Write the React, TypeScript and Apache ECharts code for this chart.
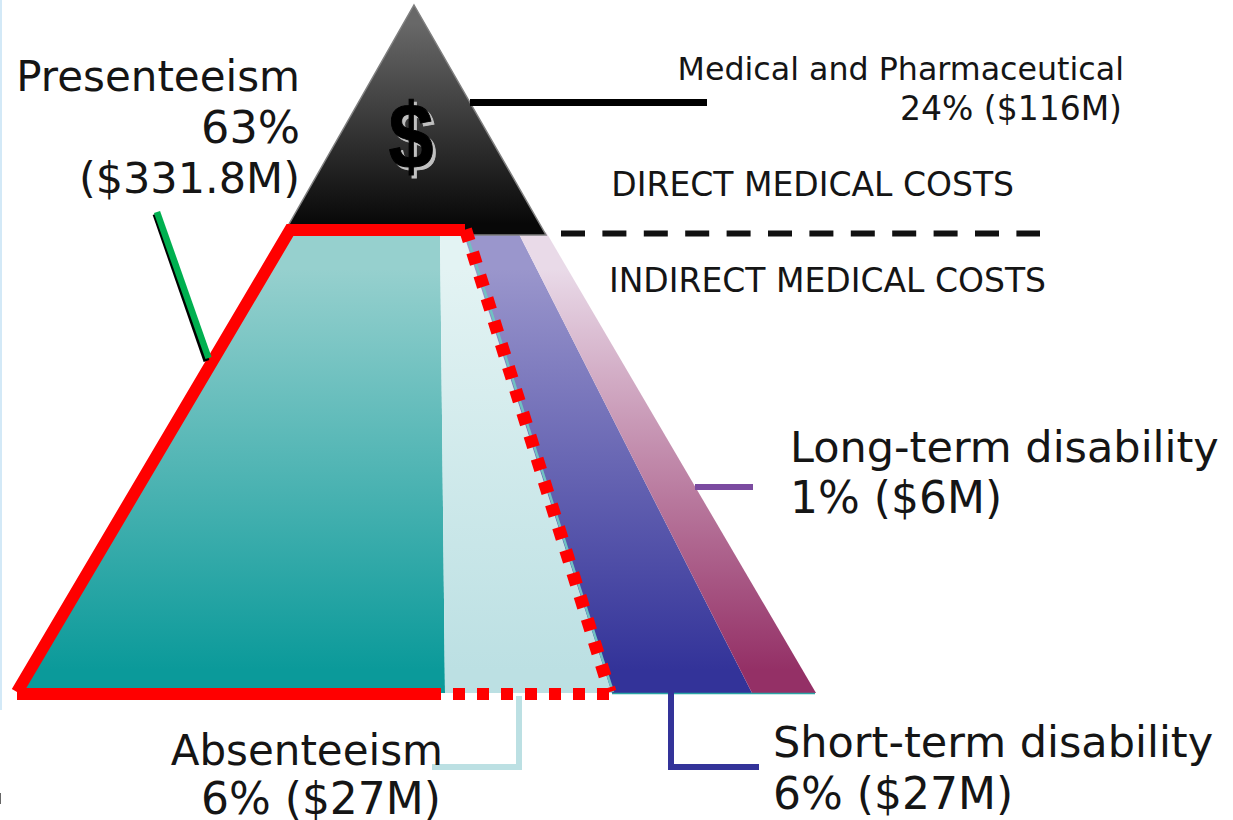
import React, { useEffect, useRef } from "react";
import * as echarts from "echarts";

const segmentNames = ["Presenteeism", "Absenteeism", "Short-term disability", "Long-term disability"];
const bandTopEdges = [289, 440, 463, 518, 546];
const bandBottomEdges = [18, 445, 612, 752, 816];
const bandTopY = 232;
const bandBottomY = 693;
const bandColors = [
  ["#96d0ce", "#0b9a9a"],
  ["#e3f3f3", "#bce0e3"],
  ["#9a96cc", "#333399"],
  ["#e9dae8", "#943066"],
];
const apex = [414, 5];
const triangleCorners = [[546, 235], [288, 235], [288, 226]];

const leaders: { color: string; width: number; points: number[][] }[] = [
  { color: "#000000", width: 7, points: [[470, 102.5], [707, 102.5]] },
  { color: "#000000", width: 6, points: [[155.5, 214], [206.5, 361]] },
  { color: "#00b050", width: 6.5, points: [[157, 212], [208.5, 358]] },
  { color: "#7b4ba0", width: 6, points: [[695, 487], [753, 487]] },
  { color: "#bce0e3", width: 6, points: [[519, 696], [519, 767], [432, 767]] },
  { color: "#333399", width: 6, points: [[671, 692], [671, 767], [759, 767]] },
];
const redSolid = [[17, 692], [290, 230], [465, 230]];
const redBase = [[17, 694], [441, 694]];
const redDottedBase = [[453, 694], [613, 694]];
const redDottedSide = [[465.5, 229.5], [610, 692]];
const tealSeam = [[467, 236], [613, 692]];
const tealBase = [[612, 693.5], [815, 693.5]];
const costDivider = [[561, 233.5], [1040, 233.5]];

function polygon(api: any, pts: number[][], fill: any, stroke?: string) {
  return {
    type: "polygon",
    shape: { points: pts.map((p) => api.coord(p)) },
    style: { fill, stroke: stroke ?? "none", lineWidth: stroke ? 1.5 : 0 },
  };
}

const grad = (a: string, b: string) =>
  new echarts.graphic.LinearGradient(0, 0, 0, 1, [
    { offset: 0, color: a },
    { offset: 0.08, color: a },
    { offset: 0.95, color: b },
    { offset: 1, color: b },
  ]);

const FONT = "'DejaVu Sans'";

function txt(text: string, x: number, y: number, size: number, align: "left" | "right") {
  return {
    type: "text",
    x,
    y,
    z: 10,
    style: { text, fontFamily: FONT, fontSize: size, fill: "#151515", align, verticalAlign: "middle" },
  };
}

const lineSeries = (points: number[][], color: string, width: number, dash?: number[]) => ({
  type: "line",
  data: points,
  symbol: "none",
  silent: true,
  z: 5,
  lineStyle: { color, width, cap: "butt", join: "miter", type: dash ?? "solid" },
});

const dollar = (x: number, y: number, fill: string, z: number) => ({
  type: "text",
  z,
  x,
  y,
  scaleX: 0.88,
  style: {
    text: "$",
    fontFamily: "'Liberation Sans'",
    fontWeight: "bold",
    fontSize: 92,
    fill,
    stroke: fill,
    lineWidth: 1,
    align: "center",
    verticalAlign: "middle",
  },
});

export default function App() {
  const ref = useRef<HTMLDivElement>(null);
  useEffect(() => {
    const chart = echarts.init(ref.current!, null, { renderer: "svg" });
    chart.setOption({
      animation: false,
      backgroundColor: "#ffffff",
      grid: { left: 0, right: 0, top: 0, bottom: 0 },
      xAxis: { type: "value", min: 0, max: 1233, show: false },
      yAxis: { type: "value", min: 0, max: 820, inverse: true, show: false },
      series: [
        {
          type: "custom",
          coordinateSystem: "cartesian2d",
          z: 2,
          data: segmentNames.map((n, i) => [i, n]),
          renderItem: (params: any, api: any) => {
            const i = params.dataIndex;
            return polygon(
              api,
              [
                [bandTopEdges[i], bandTopY],
                [bandTopEdges[i + 1], bandTopY],
                [bandBottomEdges[i + 1], bandBottomY],
                [bandBottomEdges[i], bandBottomY],
              ],
              grad(bandColors[i][0], bandColors[i][1])
            );
          },
        },
        {
          type: "custom",
          coordinateSystem: "cartesian2d",
          z: 3,
          data: [[apex[0], apex[1]]],
          renderItem: (_: any, api: any) =>
            polygon(api, [apex, ...triangleCorners], grad("#686868", "#080808"), "#7f7f7f"),
        },
        lineSeries(tealSeam, "#6fc2c2", 2.5),
        lineSeries(tealBase, "#2aa5a5", 1.5),
        lineSeries(costDivider, "#111111", 6, [24, 17.4]),
        lineSeries(redDottedBase, "#ff0000", 12, [12, 12]),
        lineSeries(redDottedSide, "#ff0000", 13, [12, 12]),
        lineSeries(redBase, "#ff0000", 12),
        lineSeries(redSolid, "#ff0000", 12),
        ...leaders.map((l) => ({ ...lineSeries(l.points, l.color, l.width), z: 6 })),
      ],
      graphic: {
        elements: [
          { type: "rect", shape: { x: 0, y: 0, width: 2, height: 710 }, style: { fill: "#d3e9f7" } },
          { type: "rect", shape: { x: 0, y: 793, width: 1, height: 11 }, style: { fill: "#666" } },
          dollar(414, 139, "#c0c0c0", 10),
          dollar(411, 136, "#000000", 11),
          txt("Presenteeism", 300, 76, 42, "right"),
          txt("63%", 300, 127, 44.5, "right"),
          txt("($331.8M)", 300, 178, 43, "right"),
          txt("Medical and Pharmaceutical", 1124, 69, 31.7, "right"),
          txt("24% ($116M)", 1122, 108, 33, "right"),
          txt("DIRECT MEDICAL COSTS", 1014, 184, 33, "right"),
          txt("INDIRECT MEDICAL COSTS", 1046, 280, 33, "right"),
          txt("Long-term disability", 790, 447, 43, "left"),
          txt("1% ($6M)", 790, 497, 44, "left"),
          txt("Short-term disability", 773, 742, 43, "left"),
          txt("6% ($27M)", 773, 793, 44, "left"),
          txt("Absenteeism", 443, 750, 42, "right"),
          txt("6% ($27M)", 441, 798, 44, "right"),
        ],
      },
    });
    return () => chart.dispose();
  }, []);
  return <div ref={ref} style={{ position: "absolute", left: 0, top: 0, width: 1233, height: 820 }} />;
}
